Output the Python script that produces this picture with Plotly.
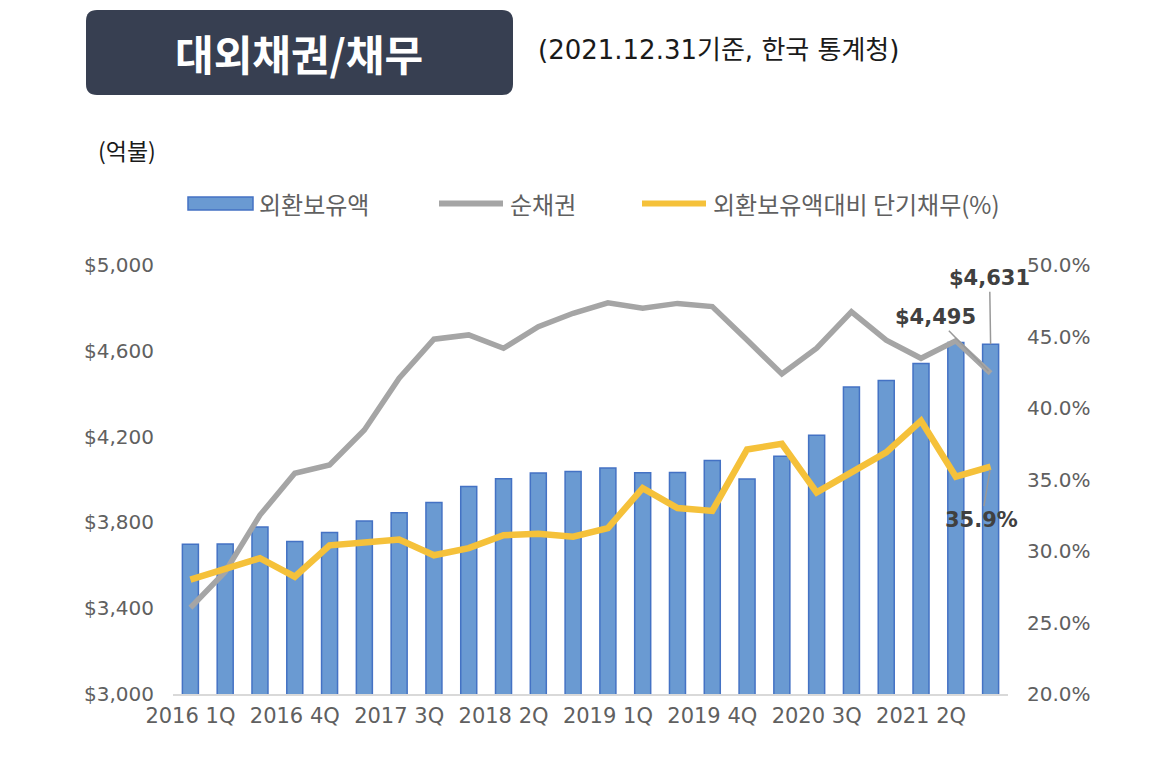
import plotly.graph_objects as go

categories = ["2016 1Q","2016 2Q","2016 3Q","2016 4Q","2017 1Q","2017 2Q","2017 3Q","2017 4Q",
              "2018 1Q","2018 2Q","2018 3Q","2018 4Q","2019 1Q","2019 2Q","2019 3Q","2019 4Q",
              "2020 1Q","2020 2Q","2020 3Q","2020 4Q","2021 1Q","2021 2Q","2021 3Q","2021 4Q"]
reserves = [3698, 3699, 3778, 3711, 3753, 3806, 3845, 3893, 3967, 4003, 4030, 4037,
            4054, 4031, 4033, 4088, 4002, 4108, 4206, 4431, 4462, 4541, 4639, 4631]
net_claims = [3402, 3570, 3834, 4029, 4068, 4231, 4472, 4654, 4674, 4612, 4712, 4775,
              4824, 4798, 4821, 4806, 4650, 4492, 4612, 4782, 4650, 4565, 4647, 4495]
st_ratio = [28.0, 28.8, 29.5, 28.2, 30.4, 30.6, 30.8, 29.7, 30.2, 31.1, 31.2, 31.0,
            31.6, 34.4, 33.0, 32.8, 37.1, 37.5, 34.1, 35.5, 36.9, 39.1, 35.2, 35.9]
tick_idx = [0, 3, 6, 9, 12, 15, 18, 21]
tick_text = [categories[i] for i in tick_idx]
left_ticks = [3000, 3400, 3800, 4200, 4600, 5000]
left_tick_text = ["$3,000", "$3,400", "$3,800", "$4,200", "$4,600", "$5,000"]
right_ticks = [20, 25, 30, 35, 40, 45, 50]
right_tick_text = ["20.0%", "25.0%", "30.0%", "35.0%", "40.0%", "45.0%", "50.0%"]

W, H = 1170, 758
L, R, T, B = 173, 1008, 265, 694

def px(x):
    return (x - L) / (R - L)

def py(y):
    return (B - y) / (B - T)

KFONT = "Noto Sans CJK KR"
NFONT = "DejaVu Sans, Noto Sans CJK KR"
BLUE_FILL = "#6A9AD2"
BLUE_LINE = "#4472C4"
GRAY = "#A5A5A5"
YELLOW = "#F5C13A"
TXT = "#606060"

xs = list(range(len(categories)))

fig = go.Figure()
fig.add_trace(go.Bar(x=xs, y=reserves, name="외환보유액", width=0.46,
                     marker=dict(color=BLUE_FILL, line=dict(color=BLUE_LINE, width=1.5)),
                     yaxis="y"))
fig.add_trace(go.Scatter(x=xs, y=net_claims, name="순채권", mode="lines",
                         line=dict(color=GRAY, width=5.5), yaxis="y"))
fig.add_trace(go.Scatter(x=xs, y=st_ratio, name="외환보유액대비 단기채무(%)", mode="lines",
                         line=dict(color=YELLOW, width=6.5), yaxis="y2"))

shapes = []
x0, y0, x1, y1, r = 86, 10, 513, 95, 11
def P(x, y):
    return f"{px(x)},{py(y)}"
path = (f"M {P(x0+r,y0)} L {P(x1-r,y0)} Q {P(x1,y0)} {P(x1,y0+r)} L {P(x1,y1-r)} "
        f"Q {P(x1,y1)} {P(x1-r,y1)} L {P(x0+r,y1)} Q {P(x0,y1)} {P(x0,y1-r)} "
        f"L {P(x0,y0+r)} Q {P(x0,y0)} {P(x0+r,y0)} Z")
shapes.append(dict(type="path", path=path, xref="paper", yref="paper",
                   fillcolor="#373F51", line=dict(width=0), layer="above"))
shapes.append(dict(type="rect", xref="paper", yref="paper", x0=px(188), x1=px(253),
                   y0=py(210), y1=py(197), fillcolor=BLUE_FILL,
                   line=dict(color=BLUE_LINE, width=1.5)))
shapes.append(dict(type="line", xref="paper", yref="paper", x0=px(439), x1=px(503),
                   y0=py(203.5), y1=py(203.5), line=dict(color=GRAY, width=6)))
shapes.append(dict(type="line", xref="paper", yref="paper", x0=px(642), x1=px(706),
                   y0=py(203.5), y1=py(203.5), line=dict(color=YELLOW, width=6)))

annotations = [
    dict(text="<b>대외채권/채무</b>", x=px(299), y=py(52), xref="paper", yref="paper",
         showarrow=False, font=dict(family=KFONT, size=42, color="white"),
         xanchor="center", yanchor="middle"),
    dict(text="(2021.12.31기준, 한국 통계청)", x=px(536), y=py(50), xref="paper", yref="paper",
         showarrow=False, font=dict(family=NFONT, size=26, color="#1a1a1a"),
         xanchor="left", yanchor="middle"),
    dict(text="(억불)", x=px(96), y=py(150), xref="paper", yref="paper",
         showarrow=False, font=dict(family=KFONT, size=23, color="#1a1a1a"),
         xanchor="left", yanchor="middle"),
    dict(text="외환보유액", x=px(257), y=py(203), xref="paper", yref="paper",
         showarrow=False, font=dict(family=KFONT, size=24, color=TXT),
         xanchor="left", yanchor="middle"),
    dict(text="순채권", x=px(508), y=py(203), xref="paper", yref="paper",
         showarrow=False, font=dict(family=KFONT, size=24, color=TXT),
         xanchor="left", yanchor="middle"),
    dict(text="외환보유액대비 단기채무(%)", x=px(711), y=py(203), xref="paper", yref="paper",
         showarrow=False, font=dict(family=KFONT, size=24, color=TXT),
         xanchor="left", yanchor="middle"),
    dict(text="<b>$4,631</b>", x=23, y=reserves[-1], xref="x", yref="y",
         ax=-1, ay=-66, showarrow=True, arrowhead=0, arrowwidth=1.5, arrowcolor="#999999",
         standoff=0, font=dict(family=NFONT, size=21, color="#404040")),
    dict(text="<b>$4,495</b>", x=23, y=net_claims[-1], xref="x", yref="y",
         ax=-55, ay=-56, showarrow=True, arrowhead=0, arrowwidth=1.5, arrowcolor="#999999",
         standoff=3, font=dict(family=NFONT, size=21, color="#404040")),
    dict(text="<b>35.9%</b>", x=23, y=st_ratio[-1], xref="x", yref="y2",
         ax=-9, ay=53, showarrow=True, arrowhead=0, arrowwidth=1.5, arrowcolor="#999999",
         standoff=3, font=dict(family=NFONT, size=21, color="#404040")),
]

fig.update_layout(
    width=W, height=H,
    margin=dict(l=L, r=W - R, t=T, b=H - B),
    paper_bgcolor="white", plot_bgcolor="white",
    showlegend=False, bargap=0.5,
    font=dict(family=NFONT, color=TXT),
    xaxis=dict(range=[-0.5, 23.5], tickvals=tick_idx, ticktext=tick_text,
               showgrid=False, zeroline=False, showline=True, linecolor="#D9D9D9",
               linewidth=2, ticks="", ticklabelstandoff=2,
               tickfont=dict(family=NFONT, size=21, color=TXT)),
    yaxis=dict(range=[3000, 5000], tickvals=left_ticks, ticktext=left_tick_text,
               showgrid=False, zeroline=False, showline=False, ticks="",
               ticklabelstandoff=18,
               tickfont=dict(family=NFONT, size=20, color=TXT)),
    yaxis2=dict(range=[20, 50], tickvals=right_ticks, ticktext=right_tick_text,
                overlaying="y", side="right", showgrid=False, zeroline=False,
                showline=False, ticks="", ticklabelstandoff=18,
                tickfont=dict(family=NFONT, size=20, color=TXT)),
    shapes=shapes,
    annotations=annotations,
)

fig.write_html("out.html")
